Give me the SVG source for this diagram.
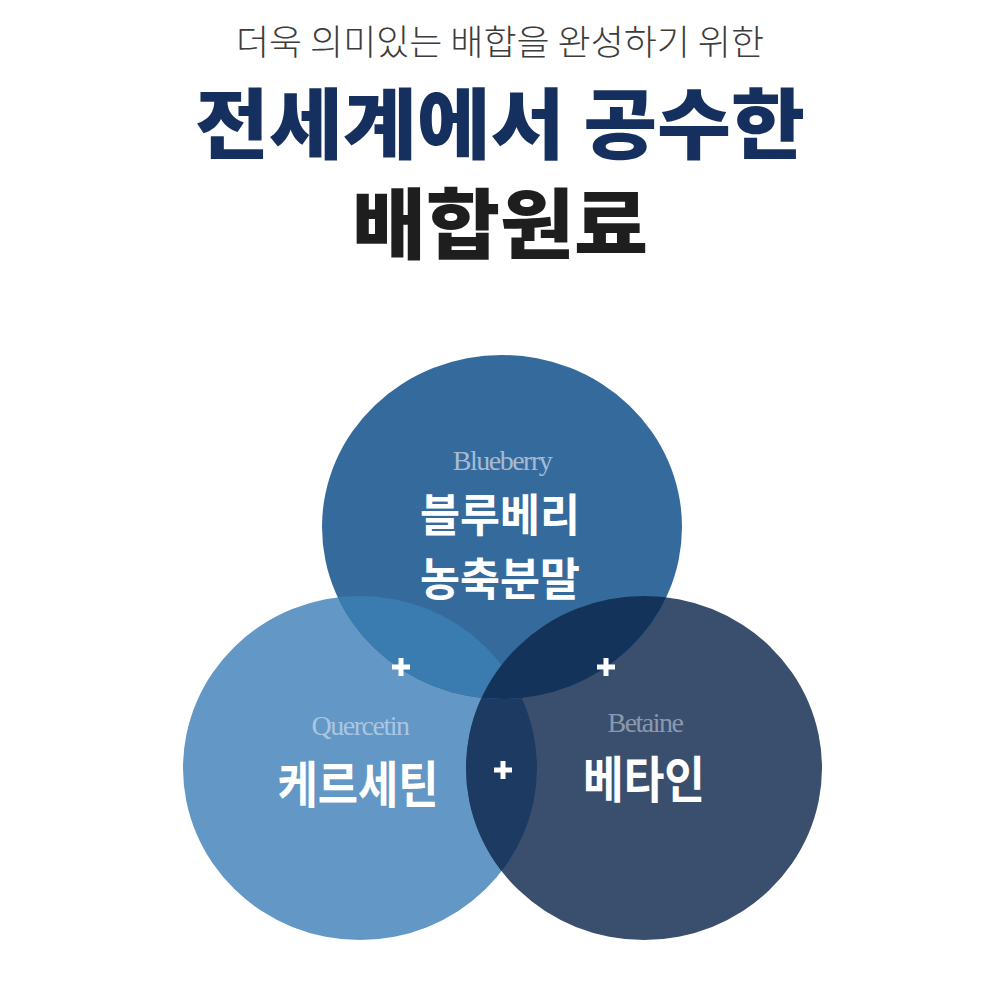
<svg xmlns="http://www.w3.org/2000/svg" width="1000" height="1000" viewBox="0 0 1000 1000">
<defs>
<style>
.kr{font-family:"Noto Sans CJK KR","Noto Sans",sans-serif;text-anchor:middle}
.en{font-family:"Liberation Serif","DejaVu Serif",serif;text-anchor:middle;font-size:28px;letter-spacing:-1.5px}
.lab{fill:#ffffff;font-weight:700;font-size:50px}
.lab2{fill:#ffffff;font-weight:700;font-size:45px}
.plus{stroke:#ffffff;stroke-width:5;fill:none}
</style>
<clipPath id="clipL"><ellipse cx="360" cy="768" rx="177" ry="172"/></clipPath>
<clipPath id="clipR"><ellipse cx="644" cy="768" rx="178" ry="172"/></clipPath>
</defs>
<rect width="1000" height="1000" fill="#ffffff"/>
<g id="title">
<text class="kr" x="500" y="55" font-size="35" fill="#3c3c3c" font-weight="300" textLength="528" lengthAdjust="spacingAndGlyphs">더욱 의미있는 배합을 완성하기 위한</text>
<text class="kr" x="500" y="153" font-size="77" fill="#15305e" font-weight="900" textLength="610" lengthAdjust="spacingAndGlyphs">전세계에서 공수한</text>
<text class="kr" x="500" y="253" font-size="77" fill="#1e1e1e" font-weight="900" textLength="296" lengthAdjust="spacingAndGlyphs">배합원료</text>
</g>
<g id="shapes">
<ellipse cx="360" cy="768" rx="177" ry="172" fill="#6397c5"/>
<ellipse cx="644" cy="768" rx="178" ry="172" fill="#3a4f6e"/>
<ellipse cx="502" cy="527" rx="180" ry="172" fill="#356b9c"/>
<ellipse cx="644" cy="768" rx="178" ry="172" fill="#1c3a62" clip-path="url(#clipL)"/>
<ellipse cx="502" cy="527" rx="180" ry="172" fill="#3a7bb0" clip-path="url(#clipL)"/>
<ellipse cx="502" cy="527" rx="180" ry="172" fill="#14335b" clip-path="url(#clipR)"/>
</g>
<g id="node-blueberry">
<text class="en" x="502" y="470" fill="#a6bbd3">Blueberry</text>
<text class="kr lab2" x="500" y="532" textLength="160" lengthAdjust="spacingAndGlyphs">블루베리</text>
<text class="kr lab2" x="500" y="596" textLength="160" lengthAdjust="spacingAndGlyphs">농축분말</text>
</g>
<g id="node-quercetin">
<text class="en" x="360" y="735" fill="#a9c6e2">Quercetin</text>
<text class="kr lab" x="358" y="803" textLength="161" lengthAdjust="spacingAndGlyphs">케르세틴</text>
</g>
<g id="node-betaine">
<text class="en" x="645" y="732" fill="#8a99ae">Betaine</text>
<text class="kr lab" x="644" y="798" textLength="122" lengthAdjust="spacingAndGlyphs">베타인</text>
</g>
<g id="connectors">
<path class="plus" d="M392 667h18M401 658v18"/>
<path class="plus" d="M597 667h18M606 658v18"/>
<path class="plus" d="M494 770h18M503 761v18"/>
</g>
</svg>
